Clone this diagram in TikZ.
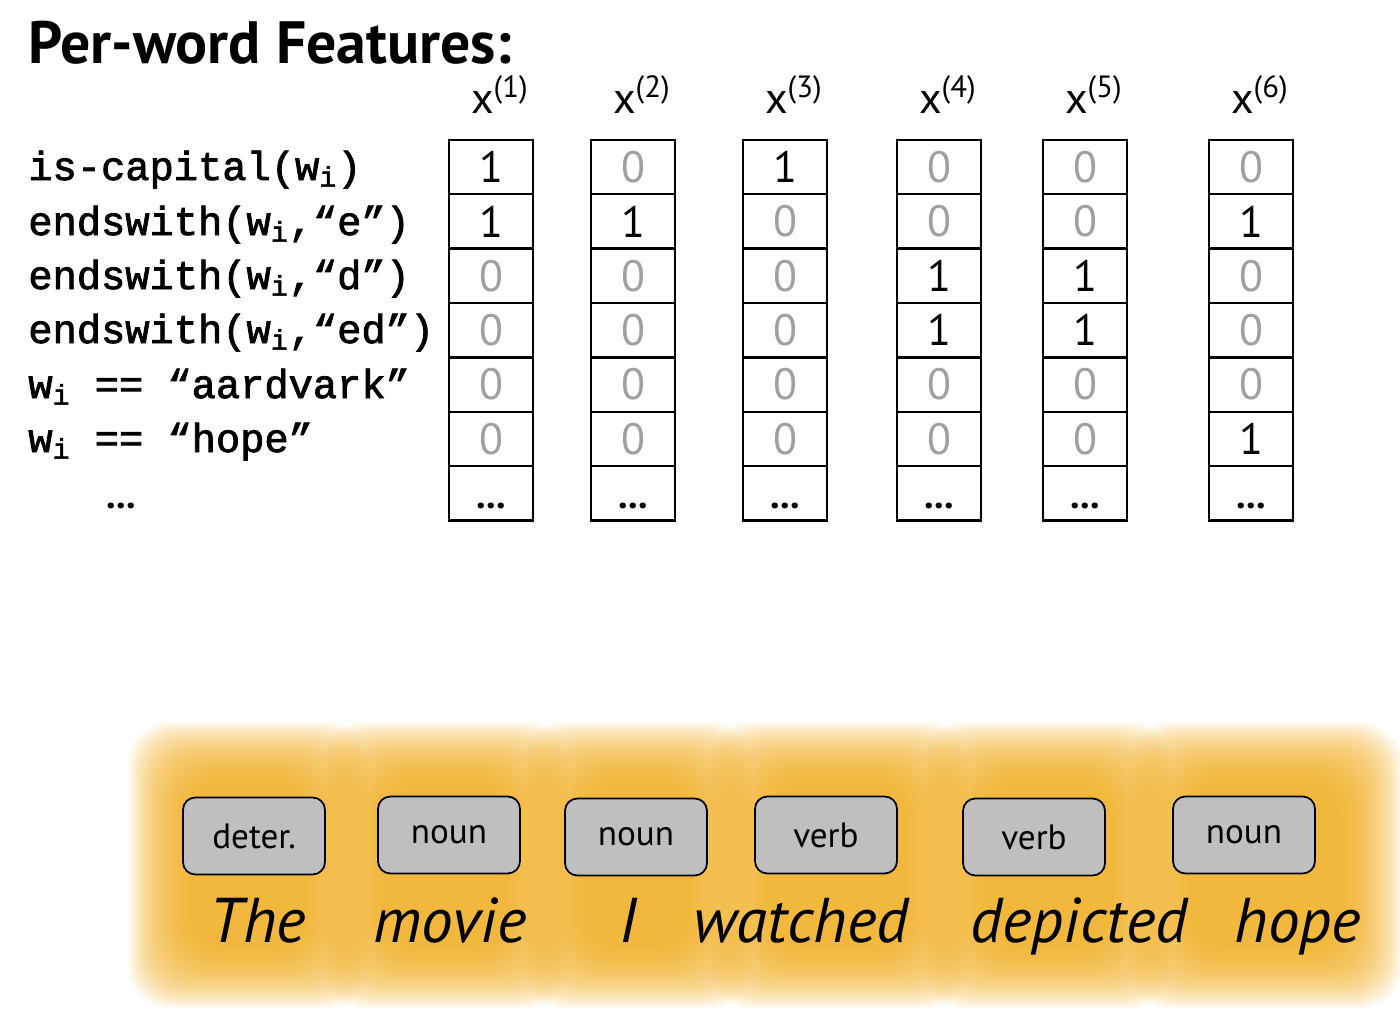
\documentclass[tikz,border=0pt]{standalone}
\usepackage{fontspec}
\setmainfont{PT Sans}
\setmonofont{Liberation Mono}[FakeBold=2]
\usetikzlibrary{chains,positioning}
\definecolor{glowc}{RGB}{240,170,24}
\definecolor{tagc}{RGB}{191,191,191}
\definecolor{zeroc}{RGB}{160,160,160}

\begin{document}
\begin{tikzpicture}[x=0.02cm,y=-0.02cm]
\useasboundingbox (0,0) rectangle (1400,1014);

\edef\cellw{1.68cm}
\edef\cellh{1.088cm}
\tikzstyle{cell}=[draw,line width=1.4pt,minimum width=\cellw,minimum height=\cellh,inner sep=0pt,font=\fontsize{25}{25}\selectfont]
\tikzstyle{v0}=[text=zeroc]
\tikzstyle{v1}=[text=black]
\tikzstyle{hdr}=[inner sep=0pt,font=\fontsize{25}{25}\selectfont]
\tikzstyle{feat}=[inner sep=0pt,anchor=base west,font=\fontsize{23}{23}\selectfont\ttfamily]
\tikzstyle{tag}=[draw,line width=1pt,rounded corners=7pt,fill=tagc,minimum width=2.84cm,minimum height=1.54cm,font=\fontsize{20}{20}\selectfont]
\tikzstyle{word}=[inner sep=0pt,anchor=base,font=\fontsize{36}{36}\selectfont\itshape]
\tikzstyle{glow}=[fill=glowc,fill opacity=0.06,rounded corners=24pt]

%% Orange glow behind the sentence, one soft patch per word
\foreach \gl/\gr in {128/368,322/568,522/752,708/968,922/1172,1128/1402}
  \foreach \k in {0,...,29}
    \fill[glow] (\gl+2*\k,722+2*\k) rectangle (\gr-2*\k,1008-2*\k);

\node[inner sep=0pt,anchor=base west,font=\fontsize{34}{34}\selectfont\bfseries] (title) at (28,63) {Per-word Features:};

%% Feature names
\node[feat] (f1) at (28,180) {is-capital(w\textsubscript{i})};
\node[feat] (f2) at (28,235) {endswith(w\textsubscript{i},“e”)};
\node[feat] (f3) at (28,289) {endswith(w\textsubscript{i},“d”)};
\node[feat] (f4) at (28,343) {endswith(w\textsubscript{i},“ed”)};
\node[feat] (f5) at (28,398) {w\textsubscript{i} == “aardvark”};
\node[feat] (f6) at (28,452) {w\textsubscript{i} == “hope”};
\node[font=\fontsize{22}{22}\selectfont\bfseries] (fdots) at (121,506) {...};

%% Feature vectors, one chain per word
\foreach \c/\xc/\vals in {1/491/{1,1,0,0,0,0},2/633/{0,1,0,0,0,0},3/785/{1,0,0,0,0,0},
                          4/939/{0,0,1,1,0,0},5/1085/{0,0,1,1,0,0},6/1251/{0,1,0,0,0,1}} {
\begin{scope}[shift={(\xc,167)},start chain=vec going below,node distance=-1.4pt]
    \foreach \v in \vals
        \node [on chain=vec,cell,v\v] {\v};
    \node [on chain=vec,cell] {\vphantom{1}\fontsize{22}{22}\selectfont\bfseries ...};
    \node [hdr,above=0.5cm of vec-1,xshift=5pt] (h\c) {x\textsuperscript{(\c)}};
\end{scope}
}

%% Tags and words
\node[tag] (tag1) at (254,836) {deter.};
\node[tag] (tag2) at (449,835) {noun};
\node[tag] (tag3) at (636,837) {noun};
\node[tag] (tag4) at (826,835) {verb};
\node[tag] (tag5) at (1034,837) {verb};
\node[tag] (tag6) at (1244,835) {noun};
\node[word] (w1) at (258,942) {The};
\node[word] (w2) at (450,942) {movie};
\node[word] (w3) at (628,942) {I};
\node[word] (w4) at (801,942) {watched};
\node[word] (w5) at (1079,942) {depicted};
\node[word] (w6) at (1298,942) {hope};
\end{tikzpicture}
\end{document}
